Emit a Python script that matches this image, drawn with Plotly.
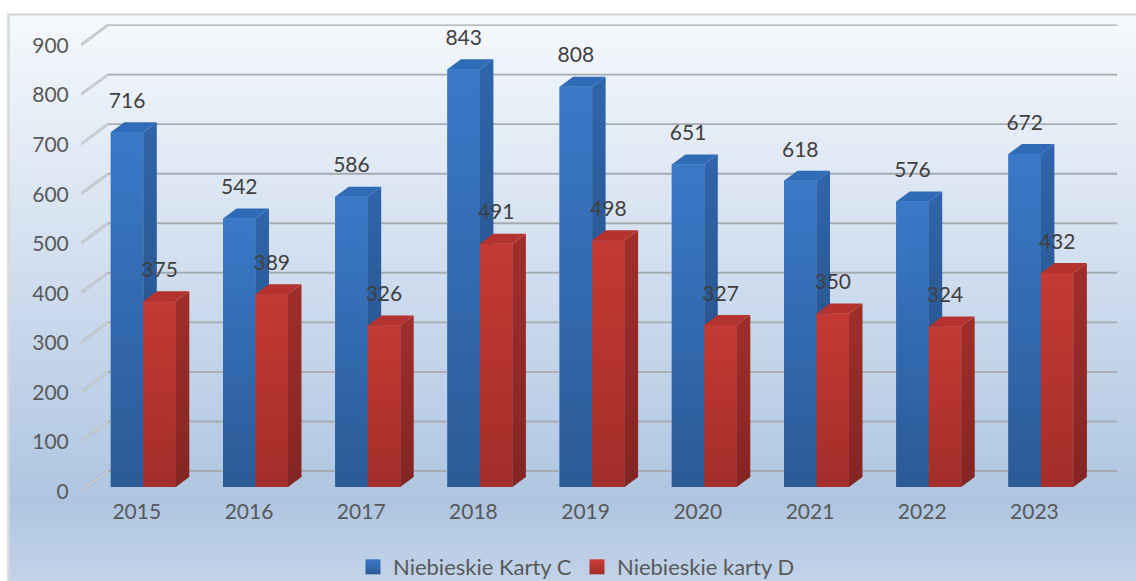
import plotly.graph_objects as go
import base64

years = ["2015", "2016", "2017", "2018", "2019", "2020", "2021", "2022", "2023"]
karty_c = [716, 542, 586, 843, 808, 651, 618, 576, 672]
karty_d = [375, 389, 326, 491, 498, 327, 350, 324, 432]
y_ticks = [0, 100, 200, 300, 400, 500, 600, 700, 800, 900]

W, H = 1136, 581
L, R, T, B = 81, 1117, 20, 492
PX_Y = 0.4955      # px per value unit
PX_X = 112.2       # px per category
X0 = 143.3         # px of first category centre
Y0 = 487.0         # px of the value 0 on the bars' front
BAR = 32.5 / PX_X
DX, DY = 13.5 / PX_X, 10 / PX_Y     # bar depth
WX = 27 / PX_X                      # wall depth
WY_BACK, WY_FRONT = 16 / PX_Y, -4 / PX_Y

x_range = [(L - X0) / PX_X, (R - X0) / PX_X]
y_range = [(Y0 - B) / PX_Y, (Y0 - T) / PX_Y]
FONT = "Lato, Carlito, Calibri, sans-serif"

svg = f'''<svg xmlns="http://www.w3.org/2000/svg" width="{W}" height="{H}">
<defs><linearGradient id="g" x1="0" y1="0" x2="0" y2="1">
<stop offset="0" stop-color="#f6f9fd"/><stop offset="0.84" stop-color="#aec5e1"/><stop offset="1" stop-color="#c6d6ea"/>
</linearGradient></defs>
<rect width="{W}" height="{H}" fill="#ffffff"/>
<rect x="8.5" y="14.5" width="{W}" height="{H}" fill="url(#g)" stroke="#d9d9d9" stroke-width="2.5"/>
</svg>'''
bg = "data:image/svg+xml;base64," + base64.b64encode(svg.encode()).decode()

fig = go.Figure()

# front faces as real bars
fig.add_trace(go.Bar(x=list(range(9)), y=karty_c, width=BAR, offset=-BAR, name="Niebieskie Karty C",
                     marker=dict(color="#3572bd", line=dict(width=0)), hoverinfo="skip", showlegend=False))
fig.add_trace(go.Bar(x=list(range(9)), y=karty_d, width=BAR, offset=0, name="Niebieskie karty D",
                     marker=dict(color="#c0352f", line=dict(width=0)), hoverinfo="skip", showlegend=False))

# back wall grid
for v in y_ticks:
    yb = v + WY_BACK
    yf = v + WY_FRONT
    fig.add_trace(go.Scatter(x=[x_range[1], x_range[0] + WX], y=[yb, yb], mode="lines",
                             line=dict(color="#a6abb1", width=1.2 if v == 900 else 1.9),
                             showlegend=False, hoverinfo="skip"))
    fig.add_trace(go.Scatter(x=[x_range[0] + WX, x_range[0]], y=[yb, yf], mode="lines",
                             line=dict(color="#aeb2b6", width=2.4), showlegend=False, hoverinfo="skip"))
    fig.add_trace(go.Scatter(x=[x_range[0] + WX, x_range[0]], y=[yb, yf], mode="lines",
                             line=dict(color="#f2f4f6", width=0.8), showlegend=False, hoverinfo="skip"))


def face(xs, ys, stops):
    fig.add_trace(go.Scatter(
        x=xs, y=ys, mode="lines", fill="toself", line=dict(width=0),
        fillgradient=dict(type="vertical", colorscale=[[0, stops[0]], [1, stops[1]]]),
        showlegend=False, hoverinfo="skip"))


def bar3d(i, v, off, front, side, top):
    x0, x1 = i + off, i + off + BAR
    face([x0, x1, x1, x0, x0], [0, 0, v, v, 0], front)
    face([x1, x1 + DX, x1 + DX, x1, x1], [0, DY, v + DY, v, 0], side)
    face([x0, x1, x1 + DX, x0 + DX, x0], [v, v, v + DY, v + DY, v], top)


LABEL_UP = 29.5 / PX_Y
for i, v in enumerate(karty_c):
    bar3d(i, v, -BAR, ("#2b5a96", "#3a79c9"), ("#234b7e", "#2f65aa"), ("#2f6bb6", "#2f6bb6"))
    fig.add_trace(go.Scatter(x=[i - BAR / 2], y=[v + LABEL_UP], mode="text", text=[str(v)],
                             textfont=dict(family=FONT, size=21, color="#404040"),
                             textposition="middle center", showlegend=False, hoverinfo="skip"))
for i, v in enumerate(karty_d):
    bar3d(i, v, 0, ("#a32d2a", "#c43933"), ("#832523", "#a02e2b"), ("#b5332e", "#b5332e"))
    fig.add_trace(go.Scatter(x=[i + BAR / 2], y=[v + LABEL_UP], mode="text", text=[str(v)],
                             textfont=dict(family=FONT, size=21, color="#404040"),
                             textposition="middle center", showlegend=False, hoverinfo="skip"))

# legend swatches with gradient squares
for name, top, bottom in [("Niebieskie Karty C", "#3a79c9", "#2b5a96"), ("Niebieskie karty D", "#d03c36", "#a02d2a")]:
    fig.add_trace(go.Scatter(x=[None], y=[None], mode="markers", name=name,
                             marker=dict(symbol="square", size=15, color=top, line=dict(width=0),
                                         gradient=dict(type="vertical", color=bottom)),
                             hoverinfo="skip"))

fig.update_layout(
    width=W, height=H, autosize=False,
    margin=dict(l=L, r=W - R, t=T, b=H - B, autoexpand=False),
    paper_bgcolor="#ffffff", plot_bgcolor="rgba(0,0,0,0)",
    barmode="overlay",
    font=dict(family=FONT, size=21, color="#595959"),
    xaxis=dict(range=x_range, tickmode="array",
               tickvals=[i - 6.5 / PX_X for i in range(9)], ticktext=years,
               showgrid=False, zeroline=False, showline=False,
               ticks="outside", ticklen=1, tickcolor="rgba(0,0,0,0)", tickangle=0),
    yaxis=dict(range=y_range, tickmode="array",
               tickvals=[v - 4.5 / PX_Y for v in y_ticks], ticktext=[str(v) for v in y_ticks],
               showgrid=False, zeroline=False, showline=False,
               ticks="outside", ticklen=7, tickcolor="rgba(0,0,0,0)"),
    legend=dict(orientation="h", x=(353 - L) / (R - L), xanchor="left",
                y=(B - 567) / (B - T), yanchor="middle", entrywidth=179, entrywidthmode="pixels",
                bgcolor="rgba(0,0,0,0)", font=dict(size=22, color="#595959"), traceorder="normal"),
    images=[dict(source=bg, xref="paper", yref="paper", x=-L / (R - L), y=1 + T / (B - T),
                 sizex=W / (R - L), sizey=H / (B - T), xanchor="left", yanchor="top",
                 sizing="stretch", layer="below")],
    showlegend=True,
)

fig.write_html("out.html", config={"displayModeBar": False},
               post_script="document.body.style.margin='0';document.documentElement.style.overflow='hidden';")
